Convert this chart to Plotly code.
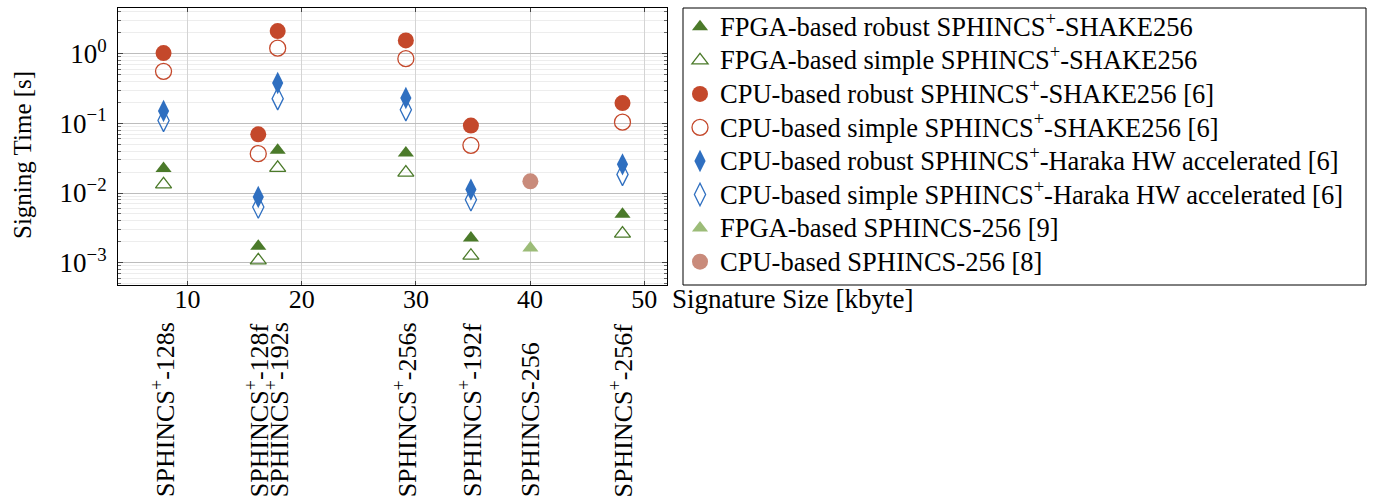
import plotly.graph_objects as go

# ---------------- data ----------------
variants_plus = ["SPHINCS<sup>+</sup>-128s", "SPHINCS<sup>+</sup>-128f", "SPHINCS<sup>+</sup>-192s",
                 "SPHINCS<sup>+</sup>-256s", "SPHINCS<sup>+</sup>-192f", "SPHINCS<sup>+</sup>-256f"]
size_plus = [7.89, 16.19, 17.89, 29.12, 34.82, 48.1]          # signature size [kbyte]
fpga_robust = [0.0224, 0.00172, 0.041, 0.0375, 0.00226, 0.00494]
fpga_simple = [0.0133, 0.00108, 0.0229, 0.0196, 0.00126, 0.00261]
cpu_robust = [1.02, 0.0695, 2.11, 1.55, 0.0927, 0.195]
cpu_simple = [0.557, 0.0367, 1.2, 0.848, 0.0483, 0.104]
haraka_robust = [0.150, 0.00877, 0.38, 0.231, 0.0112, 0.0258]
haraka_simple = [0.110, 0.0063, 0.226, 0.157, 0.0080, 0.0185]

variant_256 = ["SPHINCS-256"]
size_256 = [40.03]
fpga_256 = [0.00163]
cpu_256 = [0.0147]

x_ticks = [10, 20, 30, 40, 50]
y_ticks = [1e-3, 1e-2, 1e-1, 1]
y_ticktext = ["10<sup>\u22123</sup>", "10<sup>\u22122</sup>", "10<sup>\u22121</sup>", "10<sup>0</sup>"]
y_minor = [k * 10.0 ** e for e in range(-4, 1) for k in range(2, 10)]

names = [
    "FPGA-based robust SPHINCS<sup>+</sup>-SHAKE256",
    "FPGA-based simple SPHINCS<sup>+</sup>-SHAKE256",
    "CPU-based robust SPHINCS<sup>+</sup>-SHAKE256 [6]",
    "CPU-based simple SPHINCS<sup>+</sup>-SHAKE256 [6]",
    "CPU-based robust SPHINCS<sup>+</sup>-Haraka HW accelerated [6]",
    "CPU-based simple SPHINCS<sup>+</sup>-Haraka HW accelerated [6]",
    "FPGA-based SPHINCS-256 [9]",
    "CPU-based SPHINCS-256 [8]",
]

GREEN = "#4b7a2a"
RED = "#c4482b"
BLUE = "#2f6fc0"
LGREEN = "#9cbc78"
PINK = "#c98b7b"

FONT = "Liberation Serif"
W, H = 1374, 499
L, R, T, B = 118, 667, 8, 285   # plot area in pixels

def px2paper_x(px):
    return (px - L) / (R - L)

def px2paper_y(py):
    return (B - py) / (B - T)

series = [
    (names[0], size_plus, fpga_robust, "triangle-up", GREEN, 14, True),
    (names[1], size_plus, fpga_simple, "triangle-up-open", GREEN, 14, False),
    (names[2], size_plus, cpu_robust, "circle", RED, 16, True),
    (names[3], size_plus, cpu_simple, "circle-open", RED, 16, False),
    (names[4], size_plus, haraka_robust, "diamond-tall", BLUE, 16, True),
    (names[5], size_plus, haraka_simple, "diamond-tall-open", BLUE, 16, False),
    (names[6], size_256, fpga_256, "triangle-up", LGREEN, 14, True),
    (names[7], size_256, cpu_256, "circle", PINK, 16, True),
]

fig = go.Figure()
for i, (nm, xs, ys, sym, col, sz, filled) in enumerate(series):
    fig.add_trace(go.Scatter(
        x=xs, y=ys, mode="markers",
        name='<span style="font-size:26.5px">' + nm + "</span>",
        legendgroup="g%d" % i,
        marker=dict(symbol=sym, size=sz, color=col,
                    line=dict(width=1.3 if not filled else 0, color=col)),
    ))

annotations = []
# category labels below the axis
for lbl, xv in list(zip(variants_plus, size_plus)) + list(zip(variant_256, size_256)):
    annotations.append(dict(
        x=xv, xref="x", y=px2paper_y(499), yref="paper",
        text=lbl, textangle=-90, showarrow=False,
        xanchor="center", yanchor="bottom",
        font=dict(family=FONT, size=26, color="black"),
    ))
# axis titles
annotations.append(dict(
    x=px2paper_x(670), xref="paper", y=px2paper_y(299), yref="paper",
    text="Signature Size [kbyte]", showarrow=False, xanchor="left", yanchor="middle",
    font=dict(family=FONT, size=27, color="black"),
))
annotations.append(dict(
    x=px2paper_x(22), xref="paper", y=px2paper_y(155), yref="paper",
    text="Signing Time [s]", textangle=-90, showarrow=False,
    xanchor="center", yanchor="middle",
    font=dict(family=FONT, size=25, color="black"),
))

fig.update_layout(
    width=W, height=H,
    margin=dict(l=L, r=W - R, t=T, b=H - B, pad=0, autoexpand=False),
    paper_bgcolor="white", plot_bgcolor="white",
    font=dict(family=FONT, color="black", size=24),
    showlegend=True,
    legend=dict(
        x=px2paper_x(680), xanchor="left", y=px2paper_y(5), yanchor="top",
        bgcolor="rgba(0,0,0,0)", borderwidth=0,
        font=dict(family=FONT, size=23.5, color="black"),
        tracegroupgap=0, traceorder="grouped",
        itemclick=False, itemdoubleclick=False,
        maxheight=490,
    ),
    annotations=annotations,
    shapes=[dict(type="rect", xref="paper", yref="paper",
                 x0=px2paper_x(683), x1=px2paper_x(1366), y0=0, y1=1,
                 line=dict(color="black", width=1), fillcolor="rgba(0,0,0,0)", layer="below")],
)

fig.update_xaxes(
    range=[3.9, 52.0], tickmode="array", tickvals=x_ticks,
    showgrid=True, gridcolor="#d4d4d4", gridwidth=1, zeroline=False,
    showline=True, linecolor="black", linewidth=1, mirror="ticks",
    ticks="inside", ticklen=4, tickcolor="#444",
    tickfont=dict(family=FONT, size=26, color="black"),
    ticklabelstandoff=-9,
)
fig.update_yaxes(
    type="log", range=[-3.32, 0.655], tickmode="array", tickvals=y_ticks, ticktext=y_ticktext,
    showgrid=True, gridcolor="#bdbdbd", gridwidth=1, zeroline=False,
    showline=True, linecolor="black", linewidth=1, mirror="ticks",
    ticks="inside", ticklen=5, tickcolor="#444",
    tickfont=dict(family=FONT, size=27, color="black"),
    ticklabelstandoff=5,
    minor=dict(tickmode="array", tickvals=y_minor, ticks="inside", ticklen=3, tickcolor="#666",
               showgrid=True, gridcolor="#ededed", gridwidth=1),
)

fig.write_html("out.html", config={"displayModeBar": False},
               post_script="document.body.style.margin='0';document.body.style.padding='0';")
